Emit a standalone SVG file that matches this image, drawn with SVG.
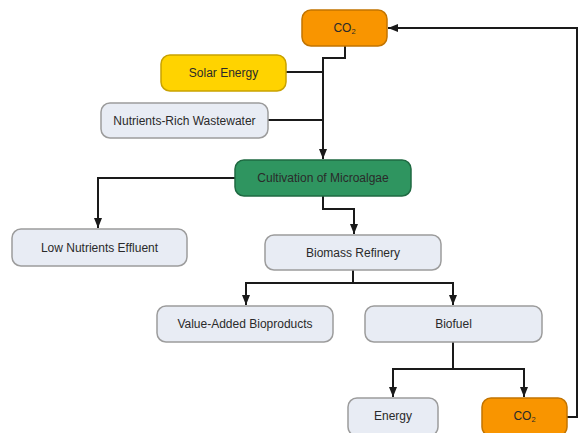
<svg xmlns="http://www.w3.org/2000/svg" width="578" height="433" viewBox="0 0 578 433">
<defs>
<style>
.box{stroke-width:1.5}
.light{fill:#E8ECF4;stroke:#9C9C9C}
.orange{fill:#F99500;stroke:#C27400}
.yellow{fill:#FFD300;stroke:#C9A200}
.green{fill:#2F9560;stroke:#1F6A42}
text{font-family:"Liberation Sans",Arial,sans-serif;font-size:12px;fill:#2A2A2A;text-anchor:middle;dominant-baseline:central}
.conn{fill:none;stroke:#1A1A1A;stroke-width:2}
</style>
<marker id="arr" viewBox="0 0 10 8" refX="10" refY="4" markerWidth="5" markerHeight="4" orient="auto" markerUnits="strokeWidth">
<path d="M0,0 L10,4 L0,8 z" fill="#1A1A1A"/>
</marker>
</defs>
<rect width="578" height="433" fill="#fff"/>
<g id="connectors">
<path class="conn" d="M345,46 V58 H323 V159" marker-end="url(#arr)"/>
<path class="conn" d="M286,72 H323"/>
<path class="conn" d="M268,120 H323"/>
<path class="conn" d="M235,178 H98 V228" marker-end="url(#arr)"/>
<path class="conn" d="M323,196 V209 H354 V234" marker-end="url(#arr)"/>
<path class="conn" d="M353,270 V283 H246 V305" marker-end="url(#arr)"/>
<path class="conn" d="M353,283 H453 V305" marker-end="url(#arr)"/>
<path class="conn" d="M453,342 V369 H393 V397" marker-end="url(#arr)"/>
<path class="conn" d="M453,369 H524 V397" marker-end="url(#arr)"/>
<path class="conn" d="M567,417 H577 V28 H388" marker-end="url(#arr)"/>
</g>
<g id="co2-top"><rect class="box orange" x="302" y="10" width="85" height="36" rx="9"/><text x="344.5" y="28">CO<tspan font-size="7.5" dy="3">2</tspan></text></g>
<g id="solar"><rect class="box yellow" x="161" y="55" width="125" height="36" rx="9"/><text x="223.5" y="73">Solar Energy</text></g>
<g id="wastewater"><rect class="box light" x="101" y="103" width="167" height="35" rx="9"/><text x="184.5" y="120.5">Nutrients-Rich Wastewater</text></g>
<g id="cultivation"><rect class="box green" x="235" y="160" width="176" height="36" rx="9"/><text x="323" y="178">Cultivation of Microalgae</text></g>
<g id="effluent"><rect class="box light" x="12" y="229" width="175" height="37" rx="9"/><text x="99.5" y="247.5">Low Nutrients Effluent</text></g>
<g id="biomass"><rect class="box light" x="265" y="235" width="176" height="35" rx="9"/><text x="353" y="252.5">Biomass Refinery</text></g>
<g id="bioproducts"><rect class="box light" x="157" y="306" width="176" height="36" rx="9"/><text x="245" y="324">Value-Added Bioproducts</text></g>
<g id="biofuel"><rect class="box light" x="365" y="306" width="177" height="36" rx="9"/><text x="453.5" y="324">Biofuel</text></g>
<g id="energy"><rect class="box light" x="348" y="398" width="90" height="38" rx="9"/><text x="393" y="416">Energy</text></g>
<g id="co2-bottom"><rect class="box orange" x="482" y="398" width="85" height="38" rx="9"/><text x="524.5" y="416">CO<tspan font-size="7.5" dy="3">2</tspan></text></g>
</svg>
